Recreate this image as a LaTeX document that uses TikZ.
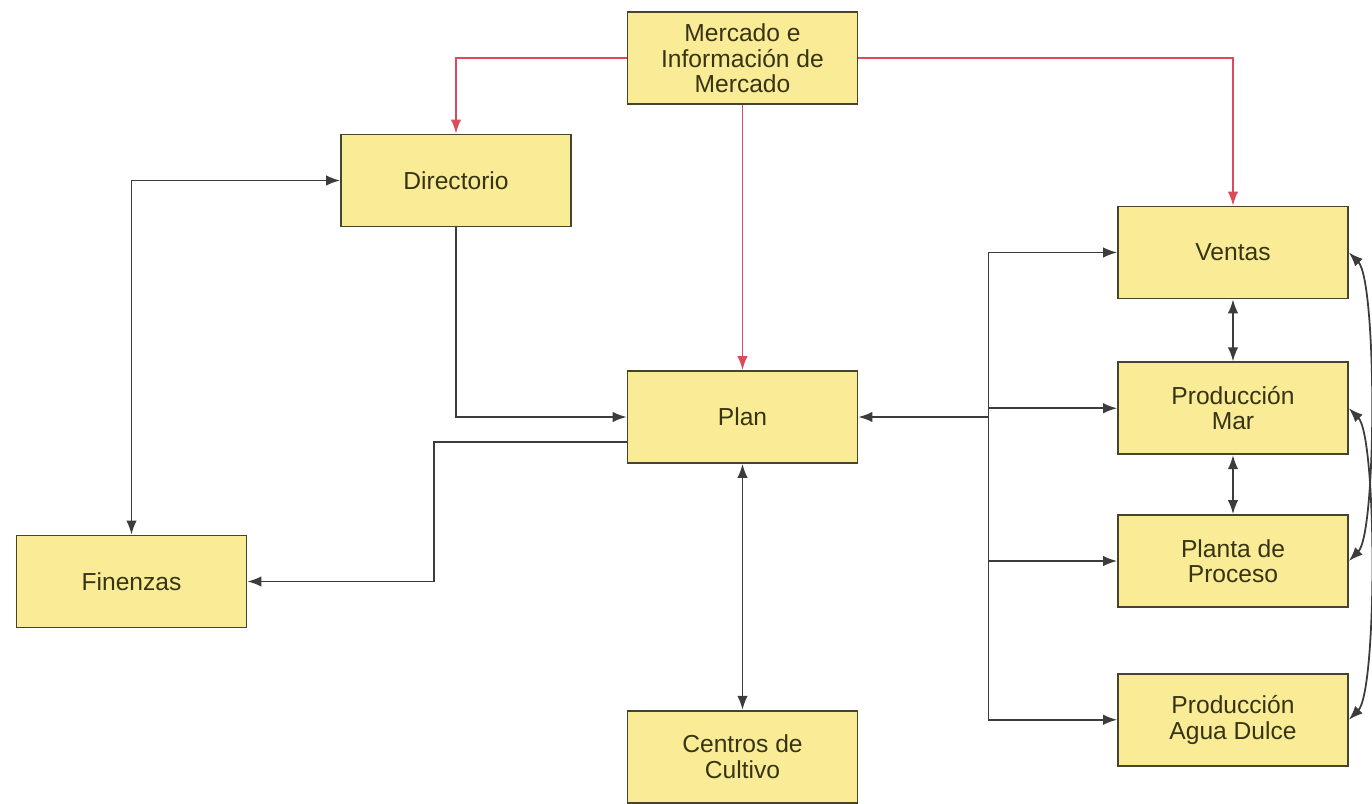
\documentclass[tikz,border=0pt]{standalone}
\usepackage{fontspec}
\setmainfont{Liberation Sans}
\usetikzlibrary{positioning, arrows.meta}

\definecolor{boxfill}{RGB}{250,236,150}
\definecolor{boxline}{RGB}{70,68,45}
\definecolor{boxtext}{RGB}{55,52,20}
\definecolor{linea}{RGB}{60,60,60}
\definecolor{rojo}{RGB}{220,75,90}

\begin{document}
\begin{tikzpicture}[->, >={Latex[length=8pt,width=6pt]}, node distance=1.24cm,
	area/.style={draw=boxline, fill=boxfill, line width=1pt, minimum width=4.6cm, minimum height=1.84cm, align=center, text=boxtext, font=\fontsize{14}{14.5}\selectfont},
	flujo/.style={draw=linea, line width=1pt},
	mercado/.style={draw=rojo, line width=1pt}]
								\useasboundingbox (0,0) rectangle (27.44,16.08);
								
								\node[area](Plan) at (14.85,7.74){Plan};
								\node[area](Mercado)[above=5.3cm of Plan]{Mercado e\\Información de\\Mercado};
								\node[area](Centros)[below=4.92cm of Plan]{Centros de\\Cultivo};
								\node[area](Directorio) at (9.12,12.47){Directorio};
								\node[area](Finanzas) at (2.63,4.45){Finenzas};
								\node[area](Ventas) at (24.66,11.03){Ventas};
								\node[area](Mar)[below=1.24cm of Ventas]{Producción\\Mar};
								\node[area](Planta)[below=1.18cm of Mar]{Planta de\\Proceso};
								\node[area](Agua)[below=1.3cm of Planta]{Producción\\Agua Dulce};
								
								\coordinate[right=2.6cm of Plan.east](bus);
								
								\path[mercado] (Mercado.west) -| (Directorio.north);
								\path[mercado] (Mercado.east) -| (Ventas.north);
								\path[mercado] (Mercado.south) -- (Plan.north);
								
								\path[flujo, <->] (Finanzas.north) |- (Directorio.west);
								\path[flujo] (Directorio.south) |- (Plan.west);
								\path[flujo] ([yshift=-5mm]Plan.west) -- ++(-3.86,0) |- (Finanzas.east);
								\path[flujo, <->] (Plan.south) -- (Centros.north);
								
								\path[flujo] (bus) -- (Plan.east);
								\path[flujo, -] (bus |- Ventas.west) -- (bus |- Agua.west);
								\path[flujo] (bus |- Ventas.west) -- (Ventas.west);
								\path[flujo] (bus |- Mar.west) -- (Mar.west);
								\path[flujo] (bus |- Planta.west) -- (Planta.west);
								\path[flujo] (bus |- Agua.west) -- (Agua.west);
								
								\path[flujo, <->] (Ventas.south) -- (Mar.north);
								\path[flujo, <->] (Mar.south) -- (Planta.north);
								\path[flujo, <->] (Ventas.east) to[out=-45, in=45, looseness=0.33] (Planta.east);
								\path[flujo, <->] (Mar.east) to[out=-45, in=45, looseness=0.33] (Agua.east);
								
							\end{tikzpicture}
\end{document}
